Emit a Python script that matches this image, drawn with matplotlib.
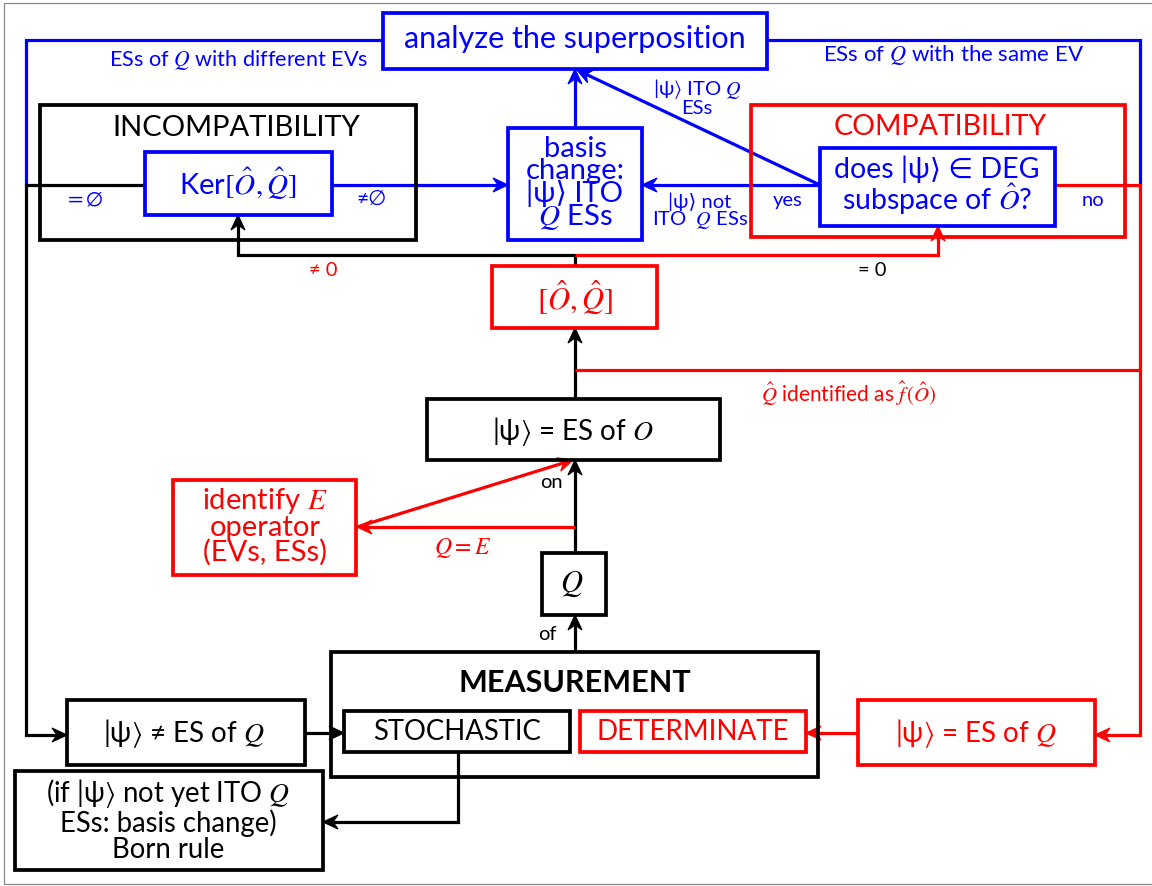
import numpy as np
import matplotlib
matplotlib.use('Agg')
import matplotlib.pyplot as plt
from matplotlib.patches import Rectangle, Polygon

plt.rcParams['font.family'] = ['Lato', 'DejaVu Sans']
plt.rcParams['mathtext.fontset'] = 'stix'

BLUE = '#0000ff'
RED = '#ff0000'
BLACK = '#000000'

KET = r'|ψ$\rangle$'   # ket used on lines that also contain math

# ---- node texts ----
node_names = ['analyze', 'incompat', 'ker', 'basis', 'compat', 'does', 'comm',
              'esO', 'identify', 'Q', 'meas', 'stoch', 'determ', 'neq', 'eq', 'born']
node_texts = {
    'analyze': 'analyze the superposition',
    'incompat': 'INCOMPATIBILITY',
    'ker': r'Ker$[\hat{O},\hat{Q}]$',
    'basis': 'basis\nchange:\n|ψ⟩ ITO\n$Q$ ESs',
    'compat': 'COMPATIBILITY',
    'does': 'does |ψ⟩ ∈ DEG\nsubspace of $\\hat{O}$?',
    'comm': r'$[\hat{O},\hat{Q}]$',
    'esO': KET + ' = ES of $O$',
    'identify': 'identify $E$\noperator\n(EVs, ESs)',
    'Q': '$Q$',
    'meas': 'MEASUREMENT',
    'stoch': 'STOCHASTIC',
    'determ': 'DETERMINATE',
    'neq': KET + ' ≠ ES of $Q$',
    'eq': KET + ' = ES of $Q$',
    'born': '(if ' + KET + ' not yet ITO $Q$\nESs: basis change)\nBorn rule',
}
edge_labels = ['ESs of $Q$ with different EVs', 'ESs of $Q$ with the same EV',
               r'$=\emptyset$', '≠∅', KET + ' ITO $Q$\nESs', '|ψ⟩ not\nITO  $Q$ ESs',
               'yes', 'no', '≠ 0', '= 0', r'$\hat{Q}$ identified as $\hat{f}\,(\hat{O})$',
               'on', '$Q = E$', 'of']

# ---- layout (pixel coordinates) ----
boxes = {  # x0, y0, x1, y1, color
    'analyze': (383, 13, 767, 69, BLUE),
    'incompat': (40, 105, 416, 240, BLACK),
    'ker': (145, 152, 332, 215, BLUE),
    'basis': (508, 128, 642, 240, BLUE),
    'compat': (751, 105, 1125, 237, RED),
    'does': (820, 148, 1055, 226, BLUE),
    'comm': (492, 266, 657, 328, RED),
    'esO': (427, 399, 720, 460, BLACK),
    'identify': (173, 480, 356, 575, RED),
    'Q': (542, 553, 606, 615, BLACK),
    'meas': (331, 652, 818, 777, BLACK),
    'stoch': (344, 711, 570, 752, BLACK),
    'determ': (580, 711, 806, 752, RED),
    'neq': (67, 700, 305, 765, BLACK),
    'eq': (858, 700, 1095, 765, RED),
    'born': (15, 771, 323, 870, BLACK),
}
text_pos = {  # x, y, fontsize, color, extra
    'analyze': (575, 39, 22, BLUE, {}),
    'incompat': (236, 128, 21, BLACK, {}),
    'ker': (238, 184, 21, BLUE, {}),
    'basis': (575, 184, 21, BLUE, {'linespacing': 0.8}),
    'compat': (940, 127, 20.5, RED, {}),
    'does': (937, 186, 20.5, BLUE, {'linespacing': 0.95}),
    'comm': (575, 298, 22, RED, {}),
    'esO': (573, 431, 20, BLACK, {}),
    'identify': (265, 526, 21, RED, {'linespacing': 0.92}),
    'Q': (572, 584, 22, BLACK, {}),
    'meas': (575, 683, 22, BLACK, {'fontweight': 'bold'}),
    'stoch': (457, 732, 19.8, BLACK, {}),
    'determ': (693, 732, 20, RED, {}),
    'neq': (184, 733, 20, BLACK, {}),
    'eq': (976, 733, 20, RED, {}),
    'born': (168, 820, 19.8, BLACK, {'linespacing': 1.0}),
}
label_pos = [  # x, y, fontsize, color
    (239, 60, 15.6, BLUE), (954, 55, 16, BLUE),
    (84, 199, 16, BLUE), (372, 199, 15, BLUE),
    (697, 97, 14.5, BLUE), (700, 212, 14.5, BLUE),
    (788, 200, 14.5, BLUE), (1093, 200, 14.5, BLUE),
    (323, 271, 14.5, RED), (872, 271, 14.5, BLACK),
    (849, 394, 15, RED),
    (551, 482, 14.5, BLACK), (463, 548, 17, RED), (547, 634, 14.5, BLACK),
]
edges = [  # polyline points, color, arrow at end
    ([(383, 40), (26, 40), (26, 185)], BLUE, False),
    ([(767, 40), (1140, 40), (1140, 185)], BLUE, False),
    ([(145, 185), (26, 185), (26, 735), (67, 735)], BLACK, True),
    ([(332, 185), (508, 185)], BLUE, True),
    ([(575, 128), (575, 69)], BLUE, True),
    ([(820, 185), (642, 185)], BLUE, True),
    ([(820, 185), (577, 70)], BLUE, True),
    ([(1055, 185), (1140, 185), (1140, 735), (1095, 735)], RED, True),
    ([(575, 266), (575, 255), (238, 255), (238, 215)], BLACK, True),
    ([(575, 255), (938, 255), (938, 226)], RED, True),
    ([(575, 399), (575, 328)], BLACK, True),
    ([(575, 370), (1140, 370)], RED, False),
    ([(575, 553), (575, 460)], BLACK, True),
    ([(575, 527), (357, 527)], RED, True),
    ([(357, 527), (573, 460)], RED, True),
    ([(575, 652), (575, 615)], BLACK, True),
    ([(305, 733), (344, 733)], BLACK, True),
    ([(858, 733), (806, 733)], RED, True),
    ([(458, 752), (458, 822), (323, 822)], BLACK, True),
]

W, H = 1152, 886
fig = plt.figure(figsize=(W / 100, H / 100), dpi=100)
ax = fig.add_axes([0, 0, 1, 1])
ax.set_xlim(0, W)
ax.set_ylim(H, 0)
ax.axis('off')

LW = 2.3

# outer frame (left, top, bottom)
ax.plot([W, 4, 4, W], [3, 3, 884, 884], color='#888888', lw=0.9)


def arrowhead(p, d, color):
    d = np.asarray(d, float)
    d = d / np.linalg.norm(d)
    n = np.array([-d[1], d[0]])
    p = np.asarray(p, float)
    L, Wd, N = 15, 7, 10
    pts = [p, p - L * d + Wd * n, p - N * d, p - L * d - Wd * n]
    ax.add_patch(Polygon(pts, closed=True, fc=color, ec=color, lw=0.8, zorder=4))


for pts, color, arrow in edges:
    pts = [np.array(p, float) for p in pts]
    draw = list(pts)
    if arrow:
        d = pts[-1] - pts[-2]
        d = d / np.linalg.norm(d)
        draw[-1] = pts[-1] - 8 * d
    xs = [p[0] for p in draw]
    ys = [p[1] for p in draw]
    ax.plot(xs, ys, color=color, lw=LW, solid_capstyle='butt',
            solid_joinstyle='miter', zorder=3)
    if arrow:
        arrowhead(pts[-1], pts[-1] - pts[-2], color)

for name in node_names:
    x0, y0, x1, y1, c = boxes[name]
    ax.add_patch(Rectangle((x0, y0), x1 - x0, y1 - y0, fill=False, ec=c,
                           lw=LW + 0.4, joinstyle='miter', zorder=5))
    x, y, fs, tc, extra = text_pos[name]
    ax.text(x, y, node_texts[name], fontsize=fs, color=tc, ha='center',
            va='center', zorder=6, **extra)

for txt, (x, y, fs, c) in zip(edge_labels, label_pos):
    ax.text(x, y, txt, fontsize=fs, color=c, ha='center', va='center',
            linespacing=0.9, zorder=6)

fig.savefig('out.png', dpi=100)
